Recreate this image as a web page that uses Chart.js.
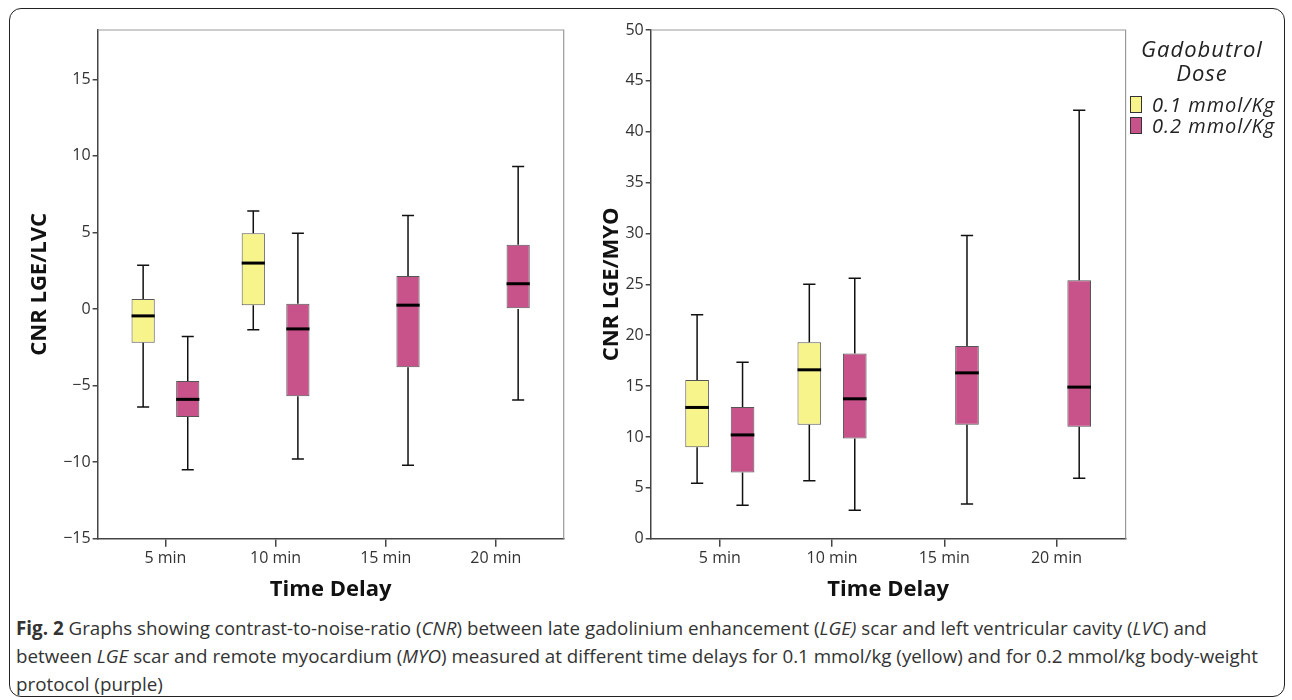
<!DOCTYPE html>
<html>
<head>
<meta charset="utf-8">
<script src="https://cdn.jsdelivr.net/npm/chart.js@4.4.0/dist/chart.umd.min.js"></script>
<style>
  body { margin: 0; background: #fff; width: 1292px; height: 700px; position: relative; overflow: hidden; }
  #frame { position: absolute; left: 9px; top: 8px; width: 1274px; height: 687px; border: 1.5px solid #222; border-radius: 12px; }
  .box { position: absolute; top: 10px; height: 600px; }
  #left { left: 10px; width: 580px; }
  #right { left: 595px; width: 690px; }
  #legend { position: absolute; left: 1128px; top: 36px; width: 160px; font-family: 'Open Sans', sans-serif; font-style: italic; color: #222; }
  #legend .title { text-align: center; font-size: 22px; line-height: 24px; width: 148px; letter-spacing: 1px; margin-bottom: 10px; }
  #legend .item { display: flex; align-items: center; font-size: 20px; line-height: 21px; letter-spacing: 1px; white-space: nowrap; }
  #legend .sw { box-sizing: border-box; width: 12px; height: 17px; border: 1px solid #333; margin: 0 10px 0 2px; }
  #caption { position: absolute; left: 16px; top: 614px; font-family: 'Open Sans', sans-serif; font-size: 18.8px; line-height: 28px; color: #333; white-space: nowrap; }
</style>
</head>
<body>
<div id="frame"></div>
<div id="left" class="box"><canvas id="lvcChart"></canvas></div>
<div id="right" class="box"><canvas id="myoChart"></canvas></div>
<div id="legend"><div class="title">Gadobutrol<br>Dose</div></div>
<div id="caption"><b>Fig. 2</b> Graphs showing contrast-to-noise-ratio (<i>CNR</i>) between late gadolinium enhancement (<i>LGE)</i> scar and left ventricular cavity (<i>LVC</i>) and<br>between <i>LGE</i> scar and remote myocardium (<i>MYO</i>) measured at different time delays for 0.1 mmol/kg (yellow) and for 0.2 mmol/kg body-weight<br>protocol (purple)</div>
<script>
// each entry: [min, q1, median, q3, max] per delay, null = no box
var delays = [5, 10, 15, 20];
var xTickLabels = ['5 min', '10 min', '15 min', '20 min'];
var lvcLow = [[-6.4, -2.2, -0.45, 0.65, 2.85], [-1.35, 0.25, 3.0, 4.95, 6.4], null, null];
var lvcHigh = [[-10.5, -7.05, -5.9, -4.7, -1.8], [-9.8, -5.7, -1.3, 0.35, 4.95], [-10.2, -3.8, 0.25, 2.15, 6.1], [-5.95, 0.0, 1.65, 4.2, 9.3]];
var myoLow = [[5.45, 9.0, 12.9, 15.6, 22.0], [5.7, 11.2, 16.6, 19.3, 25.0], null, null];
var myoHigh = [[3.3, 6.5, 10.2, 12.95, 17.35], [2.8, 9.85, 13.75, 18.2, 25.6], [3.4, 11.2, 16.3, 18.95, 29.8], [5.95, 11.0, 14.9, 25.4, 42.1]];
var seriesLabels = ['0.1 mmol/Kg', '0.2 mmol/Kg'];
var seriesColors = ['#f8f48c', '#c8538b'];

// whiskers + median line, drawn on top of the floating bars
var boxWhiskers = {
    id: 'boxWhiskers',
    afterDatasetsDraw: function (chart) {
        var ctx = chart.ctx, ys = chart.scales.y;
        chart.data.datasets.forEach(function (ds, di) {
            var meta = chart.getDatasetMeta(di);
            meta.data.forEach(function (bar, i) {
                var s = ds.data[i].stats;
                var p = bar.getProps(['x', 'width'], true);
                var cap = p.width * 0.52;
                var yMin = ys.getPixelForValue(s[0]), yQ1 = ys.getPixelForValue(s[1]);
                var yMed = ys.getPixelForValue(s[2]), yQ3 = ys.getPixelForValue(s[3]);
                var yMax = ys.getPixelForValue(s[4]);
                ctx.save();
                ctx.strokeStyle = '#111';
                ctx.lineWidth = 1.5;
                ctx.beginPath();
                ctx.moveTo(p.x, yQ3); ctx.lineTo(p.x, yMax);
                ctx.moveTo(p.x, yQ1); ctx.lineTo(p.x, yMin);
                ctx.moveTo(p.x - cap / 2, yMax); ctx.lineTo(p.x + cap / 2, yMax);
                ctx.moveTo(p.x - cap / 2, yMin); ctx.lineTo(p.x + cap / 2, yMin);
                ctx.stroke();
                ctx.lineWidth = 3;
                ctx.strokeStyle = '#000';
                ctx.beginPath();
                ctx.moveTo(p.x - p.width / 2, yMed); ctx.lineTo(p.x + p.width / 2, yMed);
                ctx.stroke();
                ctx.restore();
            });
        });
    }
};

// light grey top / right edges of the plot frame
var plotFrame = {
    id: 'plotFrame',
    afterDraw: function (chart) {
        var a = chart.chartArea, ctx = chart.ctx;
        ctx.save();
        ctx.strokeStyle = '#999';
        ctx.lineWidth = 1.2;
        ctx.beginPath();
        ctx.moveTo(a.left, a.top); ctx.lineTo(a.right, a.top); ctx.lineTo(a.right, a.bottom);
        ctx.stroke();
        ctx.restore();
    }
};

function makeData(low, high) {
    return {
        datasets: [low, high].map(function (series, k) {
            var pts = [];
            series.forEach(function (s, i) {
                if (s) pts.push({ x: delays[i], y: [s[1], s[3]], stats: s });
            });
            return {
                label: seriesLabels[k],
                data: pts,
                backgroundColor: seriesColors[k],
                borderColor: '#555',
                borderWidth: 1,
                borderSkipped: false,
                categoryPercentage: 0.81,
                barPercentage: 0.52
            };
        })
    };
}

function makeOptions(yMin, yMax, yTitle, yWidth, titlePad, padRight) {
    var tickFont = { family: 'Open Sans', size: 16 };
    var titleFont = { family: 'Open Sans', size: 22, weight: 'bold' };
    return {
        responsive: true,
        maintainAspectRatio: false,
        animation: false,
        layout: { padding: { top: 20, right: padRight, left: 0, bottom: 0 } },
        plugins: { legend: { display: false }, tooltip: { enabled: false } },
        scales: {
            x: {
                type: 'linear',
                min: 1.92,
                max: 23.08,
                offset: false,
                ticks: {
                    stepSize: 5,
                    includeBounds: false,
                    font: tickFont,
                    color: '#333',
                    padding: 2,
                    callback: function (v) { return xTickLabels[delays.indexOf(v)]; }
                },
                grid: { offset: false, drawOnChartArea: false, tickLength: 8, color: '#444', lineWidth: 1.5 },
                border: { color: '#444', width: 1.5 },
                title: { display: true, text: 'Time Delay', font: { family: 'Open Sans', size: 22, weight: 'bold' }, color: '#111', padding: { top: 0, bottom: 7 } },
                afterFit: function (s) { s.height = 71.3; }
            },
            y: {
                min: yMin,
                max: yMax,
                ticks: {
                    stepSize: 5,
                    includeBounds: false,
                    font: tickFont,
                    color: '#333',
                    padding: 2,
                    callback: function (v) { return String(v).replace('-', '\u2212'); }
                },
                grid: { drawOnChartArea: false, tickLength: 5, color: '#444', lineWidth: 1.5 },
                border: { color: '#444', width: 1.5 },
                title: { display: true, text: yTitle, font: titleFont, color: '#111', padding: { top: titlePad, bottom: 0 } },
                afterFit: function (s) { s.width = yWidth; }
            }
        }
    };
}

new Chart(document.getElementById('lvcChart'), {
    type: 'bar',
    data: makeData(lvcLow, lvcHigh),
    options: makeOptions(-15, 18.22, 'CNR LGE/LVC', 87.6, 17, 26.3),
    plugins: [boxWhiskers, plotFrame]
});

new Chart(document.getElementById('myoChart'), {
    type: 'bar',
    data: makeData(myoLow, myoHigh),
    options: makeOptions(0, 50, 'CNR LGE/MYO', 55.7, 4, 159.4),
    plugins: [boxWhiskers, plotFrame]
});

// html legend
var legend = document.getElementById('legend');
seriesLabels.forEach(function (lab, k) {
    var row = document.createElement('div');
    row.className = 'item';
    row.innerHTML = '<span class="sw" style="background:' + seriesColors[k] + '"></span>' + lab;
    legend.appendChild(row);
});
</script>
</body>
</html>
